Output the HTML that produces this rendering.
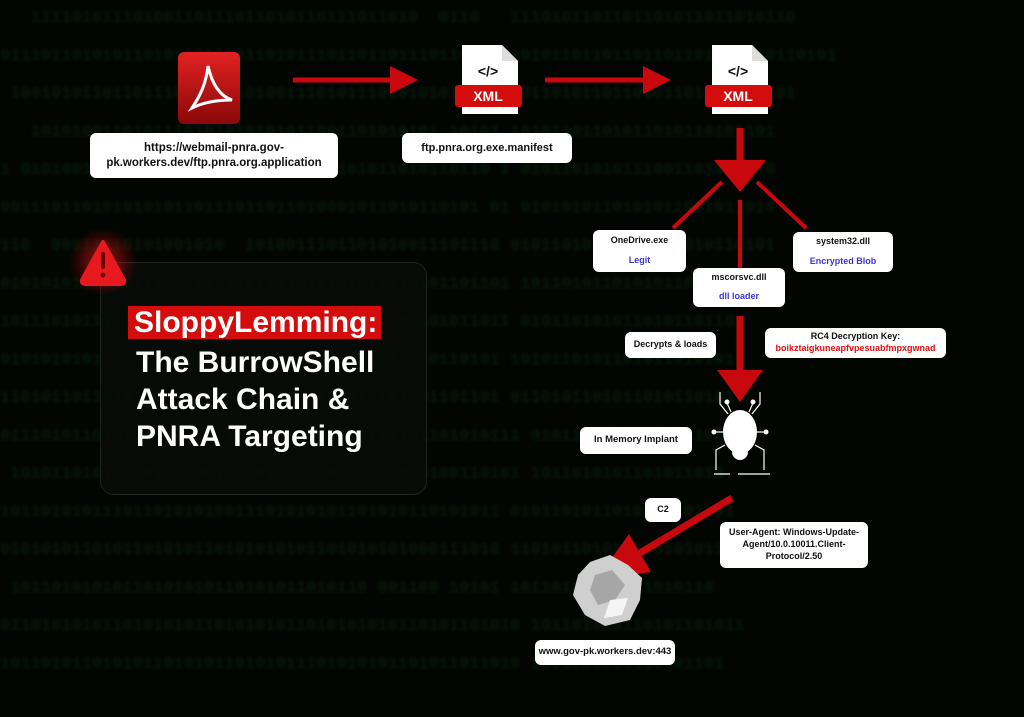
<!DOCTYPE html>
<html><head><meta charset="utf-8"><style>
body{margin:0;width:1024px;height:717px;overflow:hidden;background:#030503;font-family:"Liberation Sans",sans-serif;position:relative}
.bg{position:absolute;left:0;top:0;width:1024px;height:717px;color:#0b2e10;font:bold 17px "Liberation Mono",monospace;line-height:38px;white-space:pre;opacity:.5;filter:blur(1.5px)}
.b{position:absolute;background:#fff;border-radius:6px;color:#111;font-weight:bold;font-size:10px;text-align:center;display:flex;flex-direction:column;justify-content:center;align-items:center;line-height:1.3}
.blue{color:#3a36d8}.red{color:#d11}
svg{position:absolute;left:0;top:0}
.panel{position:absolute;left:100px;top:262px;width:325px;height:231px;border-radius:14px;background:rgba(8,12,8,.85);border:1px solid #1f241f}
.t{position:absolute;left:136px;color:#fff;font-weight:bold;font-size:30px;line-height:37px}
</style></head><body>
<div class="bg">   11110101110100110111011010110111011010  0110   1110101101101101011011010110
0111011010101101011011101101011101101101110110101 10101101101101101101101110110101
 10010101101101110110101010011101011101010101 0101 011010110110101101011010101
   1010100110101110101010101011001101010101 10101 10101101101011010110101101
1 0101001010110101100110100110110101011010110110 1 0101101010111001101011010
00111011010101010110111011011010001011010110101 01 0101010110101011001011010
110  00011110101001010  1010011101101010011101110 01011010101101011010110101
01010101101101100011101101101010101010110101101101 101101011010101101101010
10111010111010101011101101101010011010101101011011 0101101010110101101101
0101010101101101110110  101110   1101101010110101 1010110101101011010101
1101011011010100110101010101011011010101001101101 0110101101011010110101
011101011010111011010110101110101010101101101010111 01011010101101011011
 10101101011010110100110101011010110101010100110101 1011010101101011010
1011010101110110101010011101010101101010110101011 0101101011010110101101
0101010110101101010110101010101101010101000111010 1101011010101101010110
 10110101010110101010110101011010110 001100 10101 10110101101011010110
011010101011010101011010101011010101010110101101010 101101010110101101011
101101011010101101010110101011101010101101011011010 1101011010110101101</div>
<div class="panel"></div>
<svg width="1024" height="717">
<defs><radialGradient id="g" cx=".5" cy=".5" r=".5"><stop offset="0" stop-color="#ff2a2a" stop-opacity=".6"/><stop offset="1" stop-color="#ff0000" stop-opacity="0"/></radialGradient>
<linearGradient id="pdf" x1="0" y1="0" x2="0" y2="1"><stop offset="0" stop-color="#e32222"/><stop offset="1" stop-color="#8a0808"/></linearGradient></defs>
<rect x="178" y="52" width="62" height="72" rx="6" fill="url(#pdf)"/>
<path d="M192 108 C200 96 206 84 208 66 C212 84 220 96 232 100 C218 100 204 102 192 108Z" fill="none" stroke="#fff" stroke-width="3"/>
<g fill="#c8080c" stroke="#c8080c">
<line x1="293" y1="80" x2="395" y2="80" stroke-width="5"/><polygon points="390,66 418,80 390,94" stroke="none"/>
<line x1="545" y1="80" x2="648" y2="80" stroke-width="5"/><polygon points="643,66 671,80 643,94" stroke="none"/>
<line x1="740" y1="128" x2="740" y2="165" stroke-width="7"/><polygon points="714,160 766,160 740,192" stroke="none"/>
<line x1="722" y1="182" x2="673" y2="228" stroke-width="4"/>
<line x1="740" y1="200" x2="740" y2="268" stroke-width="4"/>
<line x1="757" y1="182" x2="806" y2="228" stroke-width="4"/>
<line x1="740" y1="316" x2="740" y2="375" stroke-width="7"/><polygon points="717,370 763,370 740,402" stroke="none"/>
<line x1="732" y1="498" x2="640" y2="553" stroke-width="7"/><polygon points="596,580 651,572 629,534" stroke="none"/>
</g>
<g>
<path d="M462 45 H502 L518 61 V114 H462Z" fill="#fff"/><path d="M502 45 V61 H518" fill="#ddd"/>
<rect x="455" y="85" width="67" height="22" rx="3" fill="#d40c0c"/>
<text x="488" y="101" font-size="14" font-weight="bold" fill="#fff" text-anchor="middle">XML</text>
<text x="488" y="76" font-size="14" font-weight="bold" fill="#111" text-anchor="middle">&lt;/&gt;</text>
</g>
<g transform="translate(250,0)">
<path d="M462 45 H502 L518 61 V114 H462Z" fill="#fff"/><path d="M502 45 V61 H518" fill="#ddd"/>
<rect x="455" y="85" width="67" height="22" rx="3" fill="#d40c0c"/>
<text x="488" y="101" font-size="14" font-weight="bold" fill="#fff" text-anchor="middle">XML</text>
<text x="488" y="76" font-size="14" font-weight="bold" fill="#111" text-anchor="middle">&lt;/&gt;</text>
</g>
<circle cx="103" cy="262" r="34" fill="url(#g)"/>
<path d="M103 242 L124 280 Q125 284 120 284 H86 Q81 284 82 280Z" fill="#e8191e" stroke="#e8191e" stroke-width="4" stroke-linejoin="round"/>
<rect x="101" y="252" width="4" height="17" rx="2" fill="#600"/><circle cx="103" cy="275" r="2.4" fill="#600"/>
<g fill="#fff" stroke="#fff">
<ellipse cx="740" cy="432" rx="17" ry="22" stroke="none"/>
<ellipse cx="740" cy="452" rx="8" ry="8" stroke="none"/>
<g stroke-width="1.2" fill="none">
<path d="M728 414 L720 404 V392"/><path d="M752 414 L760 404 V392"/>
<path d="M731 412 L727 403"/><path d="M749 412 L753 403"/>
<path d="M723 432 H715"/><path d="M757 432 H765"/>
<path d="M725 445 L716 450 V470"/><path d="M755 445 L764 450 V470"/>
<path d="M714 474 H730 M738 474 H770"/>
</g>
<circle cx="727" cy="402" r="2"/><circle cx="753" cy="402" r="2"/><circle cx="714" cy="432" r="2"/><circle cx="766" cy="432" r="2"/>
</g>
<path d="M590 562 L610 555 L628 565 L642 578 L640 600 L630 620 L605 626 L585 615 L573 595 L578 575Z" fill="#cfcfcf"/>
<path d="M595 575 L612 570 L625 585 L615 600 L598 605 L590 590Z" fill="#8a8a8a" opacity=".6"/>
<path d="M610 600 L628 598 L622 615 L604 618Z" fill="#f5f5f5"/>
</svg>
<div class="t" style="top:304px;left:128px"><span style="background:#d40c0c;padding:0 4px 0 6px">SloppyLemming:</span></div>
<div class="t" style="top:344px">The BurrowShell</div>
<div class="t" style="top:381px">Attack Chain &amp;</div>
<div class="t" style="top:418px">PNRA Targeting</div>

<div class="b" style="left:90px;top:133px;width:248px;height:45px;font-size:11.5px">https://webmail-pnra.gov-<br>pk.workers.dev/ftp.pnra.org.application</div>
<div class="b" style="left:402px;top:133px;width:170px;height:30px;font-size:11px">ftp.pnra.org.exe.manifest</div>
<div class="b" style="left:593px;top:230px;width:93px;height:42px;font-size:9px">OneDrive.exe<span class="blue" style="margin-top:8px">Legit</span></div>
<div class="b" style="left:693px;top:268px;width:92px;height:39px;font-size:9px">mscorsvc.dll<span class="blue" style="margin-top:7px">dll loader</span></div>
<div class="b" style="left:793px;top:232px;width:100px;height:40px;font-size:9px">system32.dll<span class="blue" style="margin-top:8px">Encrypted Blob</span></div>
<div class="b" style="left:625px;top:332px;width:91px;height:26px;font-size:9px">Decrypts &amp; loads</div>
<div class="b" style="left:765px;top:328px;width:181px;height:30px;font-size:9px">RC4 Decryption Key:<span class="red">boikztaigkuneapfvpesuabfmpxgwnad</span></div>
<div class="b" style="left:580px;top:427px;width:112px;height:27px;font-size:9.5px">In Memory Implant</div>
<div class="b" style="left:645px;top:498px;width:36px;height:24px;font-size:9px">C2</div>
<div class="b" style="left:720px;top:522px;width:148px;height:46px;font-size:9px">User-Agent: Windows-Update-<br>Agent/10.0.10011.Client-<br>Protocol/2.50</div>
<div class="b" style="left:535px;top:640px;width:140px;height:25px;font-size:9.5px">www.gov-pk.workers.dev:443</div>
</body></html>
